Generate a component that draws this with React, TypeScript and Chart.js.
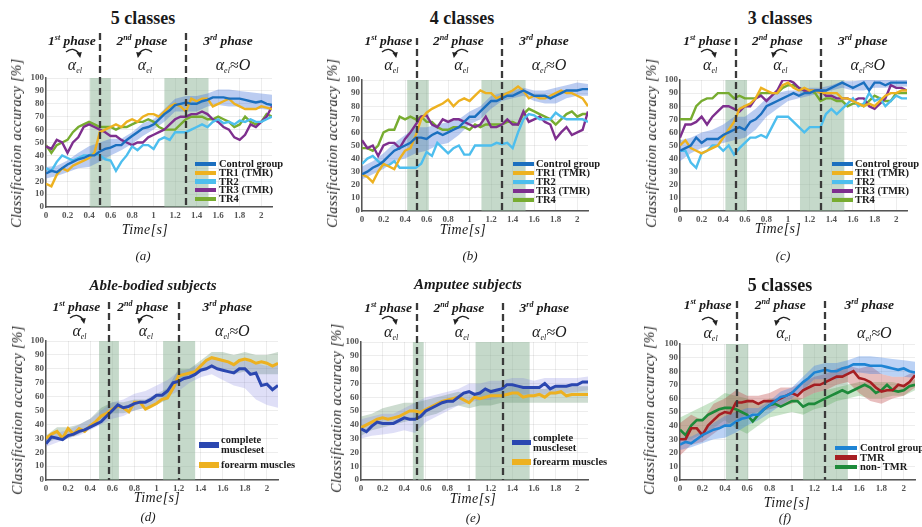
import React, { useEffect, useRef } from "react";
import { Chart, registerables } from "chart.js";

Chart.register(...registerables);

// ---------- axes ----------
const T_LINE = [0, 0.05, 0.1, 0.15, 0.2, 0.25, 0.3, 0.35, 0.4, 0.45, 0.5, 0.55, 0.6, 0.65, 0.7, 0.75, 0.8, 0.85, 0.9, 0.95, 1, 1.05, 1.1, 1.15, 1.2, 1.25, 1.3, 1.35, 1.4, 1.45, 1.5, 1.55, 1.6, 1.65, 1.7, 1.75, 1.8, 1.85, 1.9, 1.95, 2, 2.05, 2.1];
const T_BAND = [0, 0.1, 0.2, 0.3, 0.4, 0.5, 0.6, 0.7, 0.8, 0.9, 1, 1.1, 1.2, 1.3, 1.4, 1.5, 1.6, 1.7, 1.8, 1.9, 2, 2.1];
const X_TICKS = [0, 0.2, 0.4, 0.6, 0.8, 1, 1.2, 1.4, 1.6, 1.8, 2];
const X_TICK_LABELS = ["0", "0.2", "0.4", "0.6", "0.8", "1", "1.2", "1.4", "1.6", "1.8", "2"];
const Y_TICKS = [0, 10, 20, 30, 40, 50, 60, 70, 80, 90, 100];
const Y_TICK_LABELS = ["0", "10", "20", "30", "40", "50", "60", "70", "80", "90", "100"];

// ---------- (a) 5 classes ----------
const A_CTRL = [26, 28, 27, 30, 33, 35, 37, 38, 40, 40, 43, 45, 46, 48, 48, 52, 55, 58, 61, 62, 64, 68, 72, 75, 79, 80, 81, 80, 80, 82, 83, 85, 85, 85, 84, 84, 84, 83, 82, 81, 82, 80, 79];
const A_TR1 = [18, 16, 25, 30, 28, 32, 34, 36, 38, 42, 58, 60, 62, 64, 62, 66, 68, 66, 70, 72, 72, 70, 74, 78, 80, 78, 74, 84, 82, 84, 84, 78, 80, 82, 84, 80, 78, 76, 76, 76, 78, 77, 76];
const A_TR2 = [30, 28, 35, 40, 38, 36, 38, 40, 40, 42, 40, 37, 36, 28, 35, 40, 47, 44, 48, 48, 45, 52, 54, 52, 58, 58, 58, 60, 62, 64, 62, 66, 68, 65, 66, 64, 67, 66, 68, 66, 66, 68, 70];
const A_TR3 = [47, 45, 52, 50, 42, 50, 54, 62, 64, 62, 60, 58, 55, 55, 52, 50, 48, 50, 50, 54, 56, 58, 60, 64, 68, 70, 70, 72, 72, 74, 72, 68, 66, 62, 60, 54, 52, 56, 64, 62, 66, 70, 78];
const A_TR4 = [48, 42, 48, 50, 52, 58, 62, 64, 66, 64, 62, 62, 62, 60, 62, 62, 64, 66, 66, 68, 66, 62, 60, 60, 60, 64, 68, 70, 70, 70, 68, 68, 70, 68, 66, 62, 64, 70, 66, 64, 66, 72, 70];
const A_CTRL_LO = [22, 24, 27, 30, 31, 35, 40, 44, 49, 55, 60, 66, 74, 74, 74, 78, 79, 78, 78, 76, 76, 75];
const A_CTRL_HI = [31, 32, 36, 42, 47, 50, 53, 53, 58, 65, 68, 76, 84, 86, 86, 88, 91, 91, 90, 89, 88, 87];

// ---------- (b) 4 classes ----------
const B_CTRL = [28, 30, 33, 35, 38, 42, 46, 48, 50, 52, 56, 56, 55, 58, 60, 58, 60, 62, 64, 68, 72, 72, 76, 80, 84, 84, 86, 88, 88, 90, 92, 90, 88, 88, 88, 86, 88, 90, 92, 92, 92, 93, 93];
const B_TR1 = [28, 26, 22, 30, 36, 34, 32, 40, 46, 48, 58, 70, 75, 78, 80, 82, 85, 80, 84, 86, 84, 88, 92, 90, 90, 86, 88, 90, 92, 95, 92, 86, 88, 86, 86, 88, 90, 92, 90, 90, 88, 86, 80];
const B_TR2 = [36, 40, 42, 38, 35, 35, 38, 33, 33, 33, 33, 36, 45, 42, 52, 48, 44, 48, 50, 43, 43, 50, 50, 50, 50, 52, 51, 52, 48, 60, 70, 74, 73, 70, 70, 70, 75, 72, 70, 70, 70, 70, 68];
const B_TR3 = [54, 48, 50, 42, 50, 52, 52, 48, 55, 60, 66, 72, 73, 66, 64, 70, 68, 70, 70, 68, 66, 64, 66, 72, 64, 64, 66, 70, 66, 66, 76, 68, 70, 72, 68, 66, 55, 60, 64, 58, 60, 62, 76];
const B_TR4 = [48, 48, 46, 50, 60, 62, 62, 72, 70, 72, 70, 72, 68, 68, 64, 62, 62, 64, 64, 64, 62, 66, 64, 66, 66, 66, 66, 68, 68, 66, 74, 78, 76, 74, 72, 70, 66, 70, 74, 76, 72, 74, 74];
const B_CTRL_LO = [24, 28, 32, 38, 40, 44, 46, 50, 52, 58, 66, 70, 78, 84, 86, 88, 84, 82, 82, 86, 88, 88];
const B_CTRL_HI = [34, 38, 44, 52, 58, 64, 64, 66, 68, 70, 76, 80, 88, 90, 92, 94, 92, 92, 94, 96, 98, 97];

// ---------- (c) 3 classes ----------
const C_CTRL = [46, 48, 50, 56, 52, 55, 55, 55, 58, 60, 62, 64, 62, 68, 70, 74, 80, 82, 84, 86, 88, 90, 88, 90, 90, 92, 92, 92, 94, 96, 98, 96, 94, 96, 98, 92, 98, 98, 96, 98, 98, 98, 98];
const C_TR1 = [50, 54, 48, 46, 44, 46, 48, 50, 56, 62, 68, 78, 80, 82, 86, 94, 92, 90, 90, 96, 98, 94, 92, 94, 92, 92, 90, 90, 90, 90, 86, 86, 84, 82, 80, 82, 80, 84, 88, 90, 90, 92, 92];
const C_TR2 = [46, 46, 37, 33, 44, 46, 50, 50, 46, 50, 43, 48, 52, 56, 56, 58, 56, 64, 72, 72, 72, 68, 64, 60, 64, 64, 64, 74, 78, 74, 78, 82, 86, 80, 82, 90, 84, 86, 80, 84, 88, 86, 86];
const C_TR3 = [56, 66, 66, 68, 72, 66, 72, 76, 80, 80, 78, 76, 80, 80, 86, 88, 84, 88, 92, 100, 100, 98, 94, 92, 92, 92, 92, 88, 88, 86, 86, 86, 84, 86, 86, 80, 78, 82, 86, 96, 94, 94, 92];
const C_TR4 = [70, 70, 70, 80, 84, 86, 86, 90, 90, 90, 86, 88, 86, 86, 86, 90, 90, 90, 90, 94, 96, 96, 94, 92, 92, 90, 84, 86, 86, 84, 84, 80, 82, 82, 80, 84, 88, 86, 84, 84, 90, 90, 90];
const C_CTRL_LO = [38, 44, 48, 50, 52, 54, 56, 62, 72, 78, 84, 86, 88, 90, 92, 94, 92, 92, 94, 94, 95, 95];
const C_CTRL_HI = [54, 56, 60, 62, 66, 72, 72, 78, 86, 90, 92, 92, 94, 94, 96, 99, 99, 100, 100, 100, 100, 100];

// ---------- (d) Able-bodied subjects ----------
const D_COMPLETE = [26, 31, 30, 29, 32, 33, 35, 36, 38, 40, 42, 46, 50, 54, 52, 53, 55, 56, 56, 58, 61, 61, 64, 70, 71, 73, 74, 76, 79, 80, 82, 80, 79, 78, 77, 80, 80, 76, 77, 68, 69, 65, 68];
const D_FOREARM = [30, 33, 35, 30, 37, 33, 37, 35, 39, 42, 46, 48, 51, 53, 52, 49, 56, 56, 51, 53, 55, 58, 59, 66, 75, 76, 77, 78, 82, 86, 88, 87, 86, 85, 83, 86, 87, 86, 84, 85, 84, 82, 84];
const D_COMPLETE_LO = [24, 27, 30, 32, 36, 40, 44, 46, 50, 52, 56, 60, 64, 70, 74, 76, 72, 68, 66, 58, 54, 52];
const D_COMPLETE_HI = [30, 34, 36, 40, 44, 50, 56, 58, 62, 64, 68, 72, 78, 80, 84, 88, 86, 84, 86, 84, 82, 84];
const D_FOREARM_LO = [26, 30, 30, 33, 38, 44, 48, 48, 50, 52, 54, 58, 70, 74, 78, 82, 80, 76, 78, 76, 76, 76];
const D_FOREARM_HI = [32, 38, 38, 40, 44, 52, 56, 56, 58, 58, 62, 66, 80, 80, 86, 92, 92, 90, 92, 90, 90, 92];

// ---------- (e) Amputee subjects ----------
const E_COMPLETE = [37, 35, 39, 42, 41, 41, 41, 43, 45, 44, 44, 46, 50, 52, 54, 56, 57, 57, 60, 63, 64, 62, 63, 66, 64, 65, 66, 69, 69, 68, 67, 67, 67, 67, 70, 66, 68, 68, 68, 69, 69, 71, 71];
const E_FOREARM = [38, 40, 42, 44, 45, 44, 45, 46, 48, 50, 50, 49, 51, 53, 55, 57, 58, 59, 60, 58, 56, 60, 59, 60, 61, 61, 61, 62, 63, 63, 60, 61, 61, 62, 60, 63, 63, 64, 61, 62, 62, 62, 62];
const E_COMPLETE_LO = [30, 32, 33, 34, 36, 34, 42, 46, 50, 54, 56, 58, 58, 60, 62, 62, 62, 62, 62, 63, 64, 65];
const E_COMPLETE_HI = [44, 46, 48, 48, 52, 56, 60, 62, 64, 66, 70, 70, 72, 72, 74, 74, 72, 74, 74, 74, 74, 75];
const E_FOREARM_LO = [32, 36, 38, 40, 42, 44, 46, 48, 52, 54, 52, 54, 54, 56, 56, 56, 56, 56, 56, 56, 56, 56];
const E_FOREARM_HI = [46, 48, 52, 54, 56, 56, 58, 60, 62, 64, 62, 64, 66, 66, 68, 66, 66, 66, 68, 68, 68, 68];

// ---------- (f) 5 classes: TMR vs non-TMR ----------
const F_TMR = [30, 30, 38, 38, 33, 40, 44, 48, 50, 49, 57, 57, 58, 58, 56, 58, 58, 58, 60, 62, 64, 62, 66, 68, 70, 70, 72, 74, 76, 76, 78, 80, 75, 74, 72, 68, 65, 66, 66, 70, 69, 72, 77];
const F_NON_TMR = [37, 33, 40, 44, 44, 48, 50, 52, 53, 53, 52, 50, 48, 43, 48, 52, 55, 56, 54, 56, 58, 58, 54, 56, 56, 58, 60, 62, 64, 66, 64, 66, 68, 70, 68, 64, 66, 70, 66, 65, 66, 69, 70];
const F_TMR_LO = [18, 26, 28, 34, 40, 44, 48, 50, 52, 54, 56, 60, 64, 66, 70, 72, 64, 58, 56, 60, 62, 68];
const F_TMR_HI = [42, 48, 44, 56, 60, 66, 62, 62, 64, 68, 68, 72, 76, 78, 82, 84, 82, 84, 78, 76, 76, 80];
const F_NON_LO = [30, 30, 34, 38, 44, 38, 34, 40, 46, 48, 50, 48, 52, 54, 58, 60, 62, 60, 60, 62, 62, 66];
const F_NON_HI = [46, 50, 54, 58, 64, 62, 60, 56, 60, 60, 62, 60, 64, 66, 68, 70, 72, 72, 72, 72, 70, 74];

// ---------- phase markers ----------
const A_SHADES = [[0.41, 0.6], [1.1, 1.51]];
const A_DASH = [0.5, 1.3];
const B_SHADES = [[0.42, 0.62], [1.11, 1.52]];
const B_DASH = [0.51, 1.3];
const C_SHADES = [[0.42, 0.62], [1.11, 1.52]];
const C_DASH = [0.52, 1.3];
const D_SHADES = [[0.48, 0.66], [1.06, 1.35]];
const D_DASH = [0.57, 1.2];
const E_SHADES = [[0.48, 0.58], [1.06, 1.56]];
const E_DASH = [0.52, 1.31];
const F_SHADES = [[0.41, 0.61], [1.1, 1.5]];
const F_DASH = [0.51, 1.3];

// ---------- colours ----------
const C_BLUE = "#1b6fbf";
const C_ORANGE = "#EDB120";
const C_CYAN = "#4DBEEE";
const C_PURPLE = "#7E2F8E";
const C_GREEN = "#77AC30";
const CTRL_BAND = "rgba(60,110,215,0.35)";
const D_BLUE = "#2b47b0";
const COMPLETE_BAND = "rgba(110,110,220,0.22)";
const FOREARM_BAND = "rgba(90,140,100,0.30)";
const F_BLUE = "#1e84d4";
const F_RED = "#a61e22";
const F_GREEN = "#1d8a3a";
const F_BLUE_BAND = "rgba(60,125,225,0.35)";
const F_RED_BAND = "rgba(190,70,70,0.35)";
const F_GREEN_BAND = "rgba(80,170,80,0.30)";
const SHADE = "rgba(140,180,150,0.5)";
const FONT = "'Liberation Serif', serif";

type LineCfg = { label: string; data: number[]; color: string };
type BandCfg = { lo: number[]; hi: number[]; color: string };
type LegendRow = { label: string[]; color: string };
type PanelCfg = {
  x0: number; x1: number; yTop: number; yBot: number;
  lines: LineCfg[]; bands: BandCfg[]; lineW: number;
  shades: number[][]; dash: number[]; dashRise: number;
  title: string; titleItalic: boolean; titleSize: number; titleX: number; titleY: number;
  phaseY: number; alphaY: number;
  timeX: number; timeY: number; letter: string; letterX: number; letterY: number;
  ylabX: number; ylabY: number;
  legX: number; legW: number; legTextX: number; legY: number[]; legH: number;
  legend: LegendRow[];
};

const FIVE_LEGEND = (colors: string[]) => [
  { label: ["Control group"], color: colors[0] },
  { label: ["TR1 (TMR)"], color: colors[1] },
  { label: ["TR2"], color: colors[2] },
  { label: ["TR3 (TMR)"], color: colors[3] },
  { label: ["TR4"], color: colors[4] },
];

const PANELS: PanelCfg[] = [
  {
    x0: 46, x1: 272, yTop: 78, yBot: 207, lineW: 2.4,
    lines: [
      { label: "Control group", data: A_CTRL, color: C_BLUE },
      { label: "TR1 (TMR)", data: A_TR1, color: C_ORANGE },
      { label: "TR2", data: A_TR2, color: C_CYAN },
      { label: "TR3 (TMR)", data: A_TR3, color: C_PURPLE },
      { label: "TR4", data: A_TR4, color: C_GREEN },
    ],
    bands: [{ lo: A_CTRL_LO, hi: A_CTRL_HI, color: CTRL_BAND }],
    shades: A_SHADES, dash: A_DASH, dashRise: 45,
    title: "5 classes", titleItalic: false, titleSize: 18, titleX: 143, titleY: 18,
    phaseY: 41, alphaY: 64, timeX: 145, timeY: 230, letter: "(a)", letterX: 143, letterY: 255,
    ylabX: 17, ylabY: 143,
    legX: 195, legW: 21, legTextX: 219, legY: [164, 173, 181.5, 190, 199], legH: 4.5,
    legend: FIVE_LEGEND([C_BLUE, C_ORANGE, C_CYAN, C_PURPLE, C_GREEN]),
  },
  {
    x0: 362, x1: 588, yTop: 80, yBot: 211, lineW: 2.4,
    lines: [
      { label: "Control group", data: B_CTRL, color: C_BLUE },
      { label: "TR1 (TMR)", data: B_TR1, color: C_ORANGE },
      { label: "TR2", data: B_TR2, color: C_CYAN },
      { label: "TR3 (TMR)", data: B_TR3, color: C_PURPLE },
      { label: "TR4", data: B_TR4, color: C_GREEN },
    ],
    bands: [{ lo: B_CTRL_LO, hi: B_CTRL_HI, color: CTRL_BAND }],
    shades: B_SHADES, dash: B_DASH, dashRise: 42,
    title: "4 classes", titleItalic: false, titleSize: 18, titleX: 462, titleY: 18,
    phaseY: 41, alphaY: 64, timeX: 463, timeY: 230, letter: "(b)", letterX: 470, letterY: 255,
    ylabX: 333, ylabY: 143,
    legX: 513, legW: 21, legTextX: 536, legY: [164, 173, 182, 191, 200], legH: 4.5,
    legend: FIVE_LEGEND([C_BLUE, C_ORANGE, C_CYAN, C_PURPLE, C_GREEN]),
  },
  {
    x0: 680, x1: 907, yTop: 80, yBot: 211, lineW: 2.4,
    lines: [
      { label: "Control group", data: C_CTRL, color: C_BLUE },
      { label: "TR1 (TMR)", data: C_TR1, color: C_ORANGE },
      { label: "TR2", data: C_TR2, color: C_CYAN },
      { label: "TR3 (TMR)", data: C_TR3, color: C_PURPLE },
      { label: "TR4", data: C_TR4, color: C_GREEN },
    ],
    bands: [{ lo: C_CTRL_LO, hi: C_CTRL_HI, color: CTRL_BAND }],
    shades: C_SHADES, dash: C_DASH, dashRise: 42,
    title: "3 classes", titleItalic: false, titleSize: 18, titleX: 780, titleY: 18,
    phaseY: 41, alphaY: 64, timeX: 778, timeY: 229, letter: "(c)", letterX: 783, letterY: 255,
    ylabX: 652, ylabY: 143,
    legX: 832, legW: 21, legTextX: 855, legY: [164, 173, 182, 191, 200], legH: 4.5,
    legend: FIVE_LEGEND([C_BLUE, C_ORANGE, C_CYAN, C_PURPLE, C_GREEN]),
  },
  {
    x0: 46, x1: 278, yTop: 341, yBot: 480, lineW: 3,
    lines: [
      { label: "complete muscleset", data: D_COMPLETE, color: D_BLUE },
      { label: "forearm muscles", data: D_FOREARM, color: C_ORANGE },
    ],
    bands: [
      { lo: D_COMPLETE_LO, hi: D_COMPLETE_HI, color: COMPLETE_BAND },
      { lo: D_FOREARM_LO, hi: D_FOREARM_HI, color: FOREARM_BAND },
    ],
    shades: D_SHADES, dash: D_DASH, dashRise: 39,
    title: "Able-bodied subjects", titleItalic: true, titleSize: 15, titleX: 153, titleY: 285,
    phaseY: 306.5, alphaY: 330, timeX: 157, timeY: 498, letter: "(d)", letterX: 148, letterY: 516,
    ylabX: 18, ylabY: 410,
    legX: 199, legW: 20, legTextX: 221, legY: [445, 465], legH: 5.5,
    legend: [
      { label: ["complete", "muscleset"], color: D_BLUE },
      { label: ["forearm muscles"], color: C_ORANGE },
    ],
  },
  {
    x0: 361, x1: 588, yTop: 342, yBot: 480, lineW: 3,
    lines: [
      { label: "complete muscleset", data: E_COMPLETE, color: D_BLUE },
      { label: "forearm muscles", data: E_FOREARM, color: C_ORANGE },
    ],
    bands: [
      { lo: E_COMPLETE_LO, hi: E_COMPLETE_HI, color: COMPLETE_BAND },
      { lo: E_FOREARM_LO, hi: E_FOREARM_HI, color: FOREARM_BAND },
    ],
    shades: E_SHADES, dash: E_DASH, dashRise: 39,
    title: "Amputee subjects", titleItalic: true, titleSize: 15, titleX: 468, titleY: 284,
    phaseY: 308, alphaY: 331, timeX: 473, timeY: 499, letter: "(e)", letterX: 473, letterY: 517,
    ylabX: 337, ylabY: 408,
    legX: 512, legW: 19, legTextX: 533, legY: [442.5, 462], legH: 5.5,
    legend: [
      { label: ["complete", "muscleset"], color: D_BLUE },
      { label: ["forearm muscles"], color: C_ORANGE },
    ],
  },
  {
    x0: 680, x1: 915, yTop: 344, yBot: 480, lineW: 2.6,
    lines: [
      { label: "Control group", data: A_CTRL, color: F_BLUE },
      { label: "TMR", data: F_TMR, color: F_RED },
      { label: "non- TMR", data: F_NON_TMR, color: F_GREEN },
    ],
    bands: [
      { lo: A_CTRL_LO, hi: A_CTRL_HI, color: F_BLUE_BAND },
      { lo: F_TMR_LO, hi: F_TMR_HI, color: F_RED_BAND },
      { lo: F_NON_LO, hi: F_NON_HI, color: F_GREEN_BAND },
    ],
    shades: F_SHADES, dash: F_DASH, dashRise: 43,
    title: "5 classes", titleItalic: false, titleSize: 18, titleX: 780, titleY: 285,
    phaseY: 305, alphaY: 332, timeX: 787, timeY: 503, letter: "(f)", letterX: 785, letterY: 517,
    ylabX: 650, ylabY: 410,
    legX: 835, legW: 22, legTextX: 860, legY: [448, 457.5, 467], legH: 4.5,
    legend: [
      { label: ["Control group"], color: F_BLUE },
      { label: ["TMR"], color: F_RED },
      { label: ["non- TMR"], color: F_GREEN },
    ],
  },
];

const PAD_L = 40, PAD_T = 50, PAD_R = 4, X_AXIS_H = 16;

function CurvedArrow({ x, y, flip }: { x: number; y: number; flip: boolean }) {
  return (
    <svg
      width={18}
      height={12}
      viewBox="0 0 18 12"
      style={{ position: "absolute", left: x, top: y, transform: flip ? "scaleX(-1)" : undefined, overflow: "visible" }}
    >
      <path d="M1,5 Q8,-1 14,6.5" stroke="#222" strokeWidth={1.4} fill="none" />
      <polygon points="11.5,6 16.8,5 15.2,11" fill="#222" />
    </svg>
  );
}

function Panel({ p }: { p: PanelCfg }) {
  const ref = useRef<HTMLCanvasElement>(null);
  const cl = p.x0 - PAD_L;
  const ct = p.yTop - PAD_T;
  const cw = p.x1 - cl + PAD_R;
  const ch = p.yBot - ct + X_AXIS_H;

  useEffect(() => {
    const canvas = ref.current;
    if (!canvas) return;
    const datasets: any[] = [];
    p.bands.forEach((b) => {
      datasets.push({
        data: T_BAND.map((x, i) => ({ x, y: b.lo[i] })),
        borderWidth: 0, borderColor: "rgba(0,0,0,0)", pointRadius: 0, fill: false, order: 20,
      });
      datasets.push({
        data: T_BAND.map((x, i) => ({ x, y: b.hi[i] })),
        borderWidth: 0, borderColor: "rgba(0,0,0,0)", pointRadius: 0, fill: "-1",
        backgroundColor: b.color, order: 20,
      });
    });
    p.lines.forEach((l, i) => {
      datasets.push({
        label: l.label,
        data: T_LINE.map((x, j) => ({ x, y: l.data[j] })),
        borderColor: l.color, borderWidth: p.lineW, pointRadius: 0, fill: false,
        tension: 0, order: i,
      });
    });

    const phasePlugin = {
      id: "phases",
      beforeDatasetsDraw(chart: any) {
        const { ctx, chartArea, scales } = chart;
        ctx.save();
        ctx.fillStyle = SHADE;
        p.shades.forEach(([a, b]) => {
          const xa = scales.x.getPixelForValue(a);
          const xb = scales.x.getPixelForValue(b);
          ctx.fillRect(xa, chartArea.top, xb - xa, chartArea.bottom - chartArea.top);
        });
        ctx.restore();
      },
      afterDatasetsDraw(chart: any) {
        const { ctx, chartArea, scales } = chart;
        ctx.save();
        ctx.strokeStyle = "#3a3a3a";
        ctx.lineWidth = 2.3;
        ctx.setLineDash([7, 4]);
        p.dash.forEach((d) => {
          const xd = Math.round(scales.x.getPixelForValue(d));
          ctx.beginPath();
          ctx.moveTo(xd, chartArea.top - p.dashRise);
          ctx.lineTo(xd, chartArea.bottom);
          ctx.stroke();
        });
        ctx.restore();
      },
    };

    const tickFont = { family: FONT, size: 9, weight: "bold" as const };
    const chart = new Chart(canvas, {
      type: "line",
      data: { datasets },
      options: {
        animation: false,
        responsive: false,
        maintainAspectRatio: false,
        devicePixelRatio: 1,
        layout: { padding: { left: 0, right: PAD_R, top: PAD_T, bottom: 0 } },
        plugins: { legend: { display: false }, tooltip: { enabled: false } },
        scales: {
          x: {
            type: "linear",
            min: 0,
            max: 2.1,
            afterBuildTicks: (s: any) => { s.ticks = X_TICKS.map((v) => ({ value: v })); },
            afterFit: (s: any) => { s.height = X_AXIS_H; },
            ticks: {
              callback: (_v: any, i: number) => X_TICK_LABELS[i],
              font: tickFont, color: "#555", padding: 3, maxRotation: 0, autoSkip: false,
            },
            grid: { color: "rgba(0,0,0,0.07)", drawTicks: false },
            border: { color: "#555", width: 1.5 },
          },
          y: {
            min: 0,
            max: 100,
            afterBuildTicks: (s: any) => { s.ticks = Y_TICKS.map((v) => ({ value: v })); },
            afterFit: (s: any) => { s.width = PAD_L; },
            ticks: {
              callback: (_v: any, i: number) => Y_TICK_LABELS[i],
              font: tickFont, color: "#555", padding: 2, autoSkip: false,
            },
            grid: { color: "rgba(0,0,0,0.07)", drawTicks: false },
            border: { color: "#555", width: 1.5 },
          },
        },
      } as any,
      plugins: [phasePlugin],
    });
    return () => chart.destroy();
  }, []);

  const px = (v: number) => p.x0 + (v / 2.1) * (p.x1 - p.x0);
  const mids = [p.dash[0] / 2, (p.dash[0] + p.dash[1]) / 2, (p.dash[1] + 2.1) / 2];
  const center: React.CSSProperties = {
    position: "absolute",
    transform: "translate(-50%,-50%)",
    whiteSpace: "nowrap",
    lineHeight: 1,
    color: "#1a1a1a",
  };
  const phaseNames: [string, string][] = [["1", "st"], ["2", "nd"], ["3", "rd"]];

  return (
    <>
      <canvas
        ref={ref}
        width={cw}
        height={ch}
        style={{ position: "absolute", left: cl, top: ct, width: cw, height: ch }}
      />
      <div style={{ ...center, left: p.titleX, top: p.titleY, fontSize: p.titleSize, fontWeight: "bold", fontStyle: p.titleItalic ? "italic" : "normal" }}>
        {p.title}
      </div>
      {phaseNames.map(([n, s], i) => (
        <div key={"ph" + i} style={{ ...center, left: px(mids[i]) - 1, top: p.phaseY, fontSize: 13.5, fontWeight: "bold", fontStyle: "italic" }}>
          {n}
          <span style={{ fontSize: 8, position: "relative", top: -5 }}>{s}</span> phase
        </div>
      ))}
      {[0, 1].map((i) => (
        <React.Fragment key={"al" + i}>
          <CurvedArrow x={px(mids[i]) - 8} y={p.alphaY - 17} flip={i === 1} />
          <div style={{ ...center, left: px(mids[i]) + 2, top: p.alphaY + 1, fontSize: 16, fontStyle: "italic" }}>
            α<span style={{ fontSize: 8, position: "relative", top: 3 }}>el</span>
          </div>
        </React.Fragment>
      ))}
      <div style={{ ...center, left: px(mids[2]) + 4, top: p.alphaY + 1, fontSize: 16, fontStyle: "italic" }}>
        α<span style={{ fontSize: 8, position: "relative", top: 3 }}>el</span>≈O
      </div>
      <div style={{ ...center, left: p.timeX, top: p.timeY, fontSize: 14, fontStyle: "italic", letterSpacing: 0.4 }}>Time[s]</div>
      <div style={{ ...center, left: p.letterX, top: p.letterY, fontSize: 13, fontStyle: "italic" }}>{p.letter}</div>
      <div style={{ ...center, left: p.ylabX, top: p.ylabY, fontSize: 14, fontStyle: "italic", letterSpacing: 0.4, transform: "translate(-50%,-50%) rotate(-90deg)" }}>
        Classification accuracy [%]
      </div>
      {p.legend.map((row, i) => (
        <React.Fragment key={"lg" + i}>
          <div style={{ position: "absolute", left: p.legX, top: p.legY[i] - p.legH / 2, width: p.legW, height: p.legH, background: row.color }} />
          <div style={{ position: "absolute", left: p.legTextX, top: p.legY[i], transform: "translateY(-50%)", fontSize: 10.5, fontWeight: "bold", lineHeight: "10px", color: "#1a1a1a", whiteSpace: "nowrap" }}>
            {row.label.map((t, k) => (
              <div key={k}>{t}</div>
            ))}
          </div>
        </React.Fragment>
      ))}
    </>
  );
}

export default function App() {
  return (
    <div
      style={{
        position: "absolute",
        left: 0,
        top: 0,
        width: 922,
        height: 527,
        overflow: "hidden",
        background: "#fff",
        fontFamily: FONT,
      }}
    >
      {PANELS.map((p, i) => (
        <Panel key={i} p={p} />
      ))}
    </div>
  );
}
